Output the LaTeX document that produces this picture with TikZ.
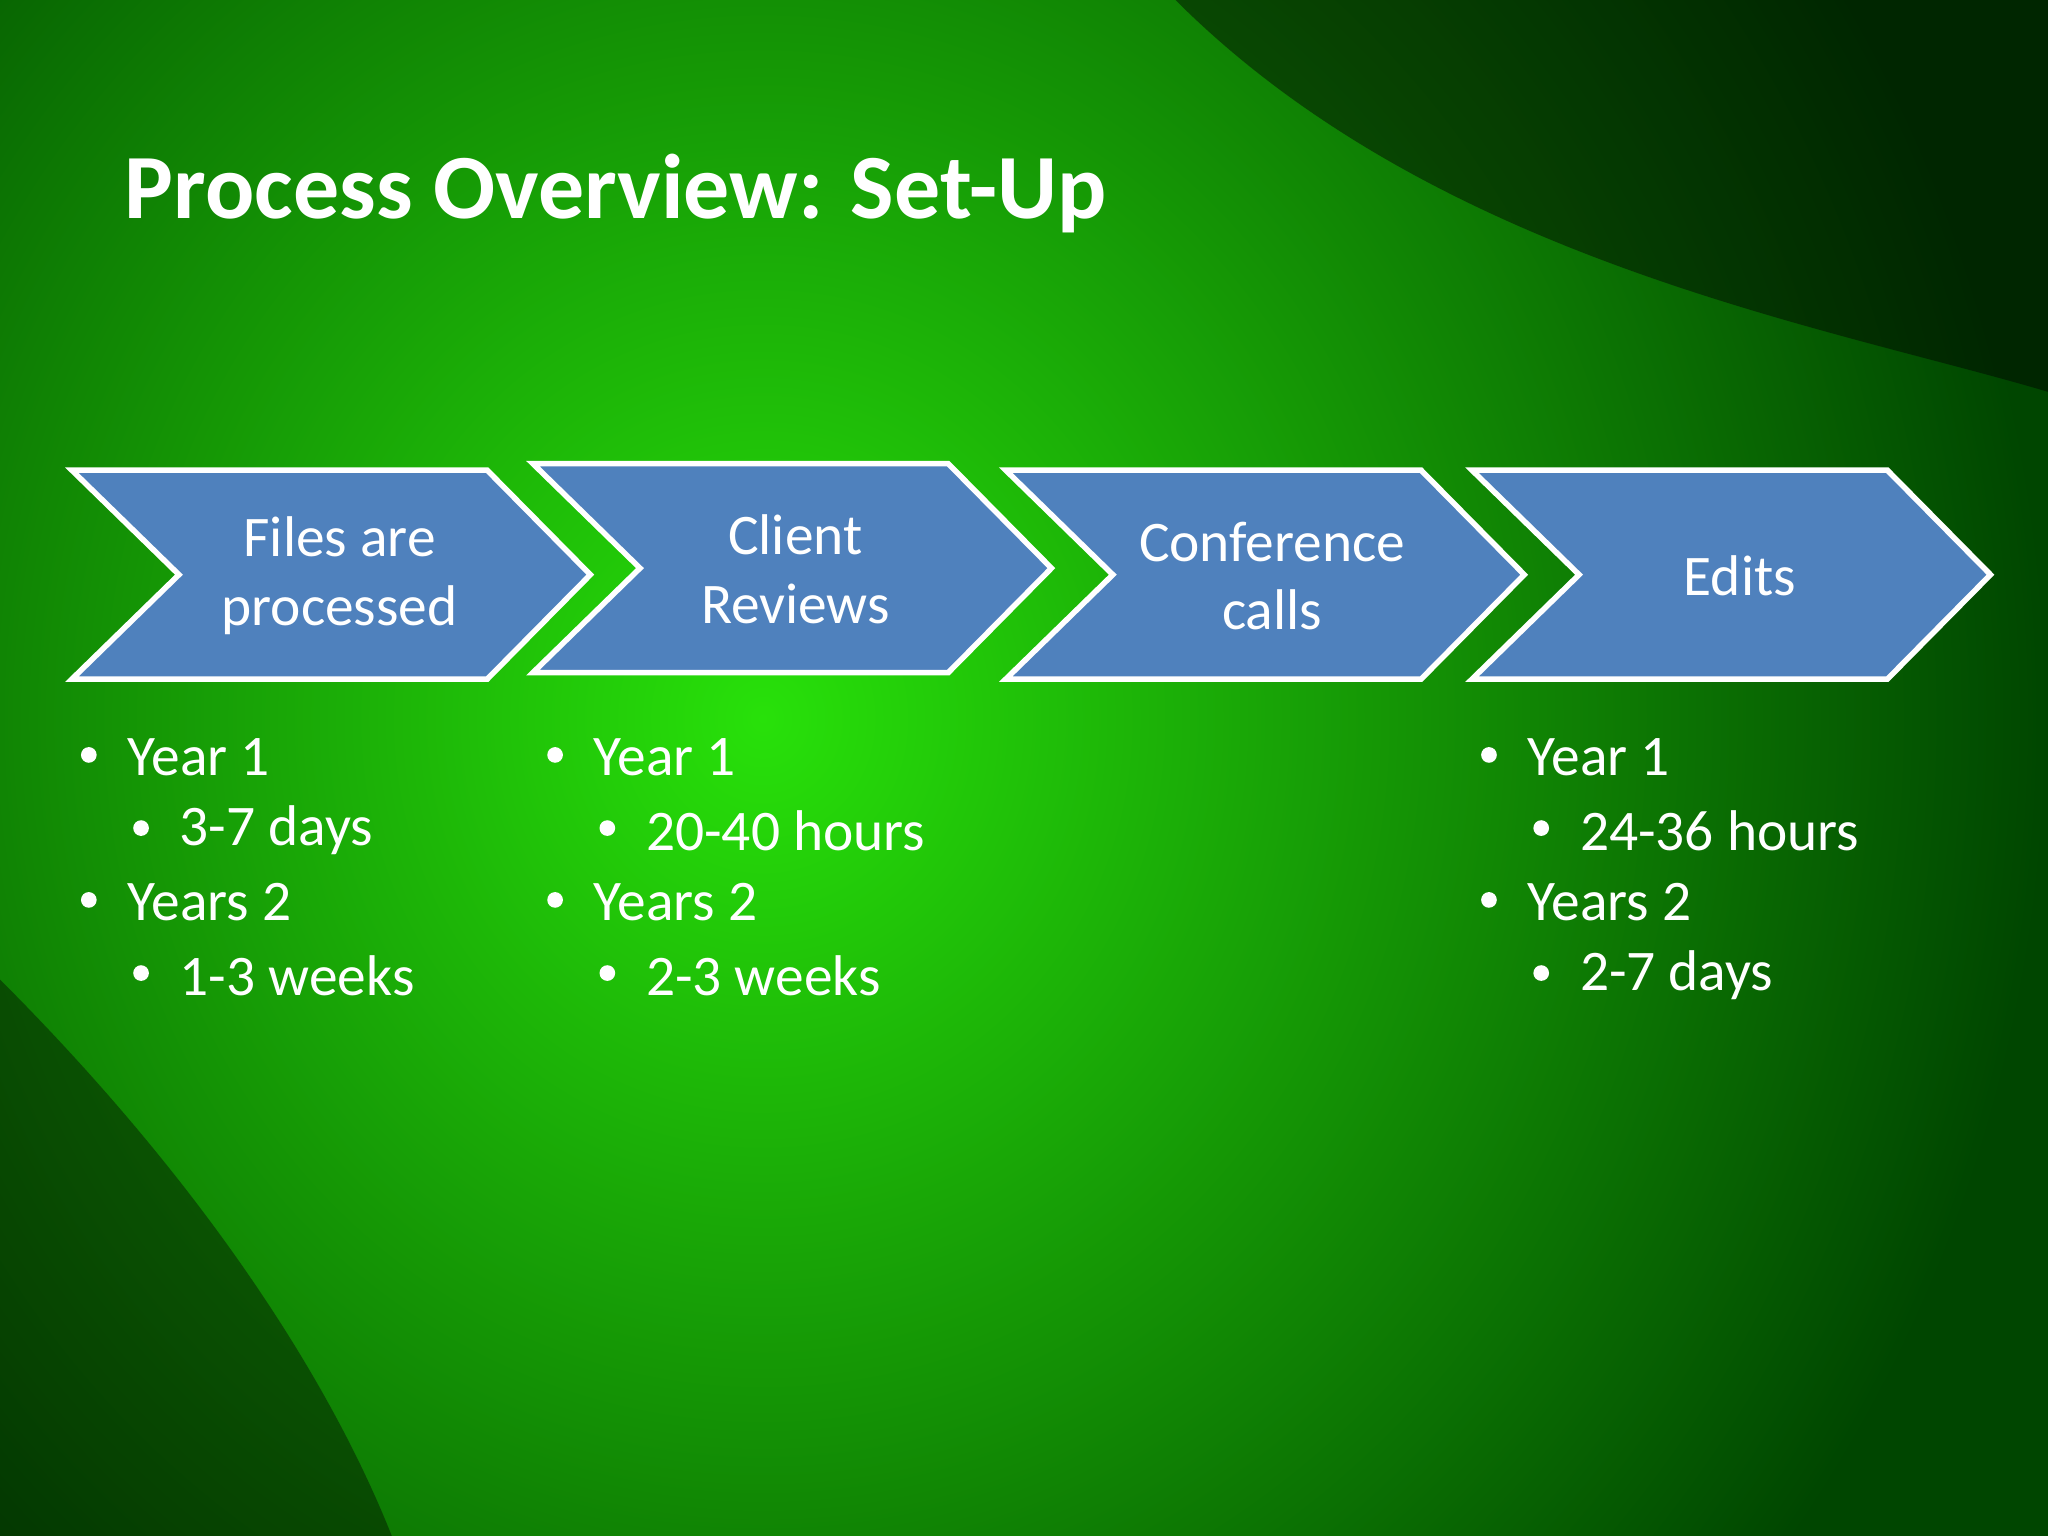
\documentclass[tikz,border=0pt]{standalone}
\usepackage{fontspec}
\setmainfont{Carlito}
\begin{document}
\begin{tikzpicture}[x=0.01cm,y=-0.01cm,
  chev/.style={fill={rgb,255:red,79;green,129;blue,189},draw=white,line width=1.2pt,line join=miter},
  ctext/.style={text=white,font=\fontsize{12.5}{15}\selectfont,align=center},
  btext/.style={text=white,font=\fontsize{12.5}{15}\selectfont,anchor=west,inner sep=0pt}]
\useasboundingbox (0,0) rectangle (1568,1176);
\fill[black] (0,0) rectangle (1568,1176);
\shade[inner color={rgb,255:red,40;green,225;blue,10},outer color={rgb,255:red,0;green,70;blue,0}] (-400,-500) rectangle (1568,1600);
\fill[black,opacity=0.45] (1568,0) -- (900,0) .. controls (1100,200) and (1400,250) .. (1568,300) -- cycle;
\fill[black,opacity=0.4] (0,750) .. controls (150,900) and (250,1050) .. (300,1176) -- (0,1176) -- cycle;
\node[text=white,font=\fontsize{20}{24}\bfseries\selectfont,anchor=west,inner sep=0pt] (title) at (95,148) {Process Overview: Set-Up};
\def\chevron#1#2#3{\filldraw[chev] (#1,#2) -- ++(318,0) -- ++(79,80) -- ++(-79,80) -- ++(-318,0) -- ++(82,-80) -- cycle;}
\chevron{55}{360}{}
\chevron{408}{355}{}
\chevron{770}{360}{}
\chevron{1127}{360}{}
\node[ctext] (c1) at (260,441) {Files are\\processed};
\node[ctext] (c2) at (609,436) {Client\\Reviews};
\node[ctext] (c3) at (974,441) {Conference\\calls};
\node[ctext] (c4) at (1332,441) {Edits};
\def\blist#1#2#3#4#5{
  \fill[white] (#1+13,578) circle (6); \node[btext] at (#1+42,580) {#2};
  \fill[white] (#1+53,634) circle (6); \node[btext] at (#1+82,636) {#3};
  \fill[white] (#1+13,689) circle (6); \node[btext] at (#1+42,691) {#4};
  \fill[white] (#1+53,745) circle (6); \node[btext] at (#1+82,747) {#5};}
\blist{55}{Year 1}{3-7 days}{Years 2}{1-3 weeks}
\blist{412}{Year 1}{20-40 hours}{Years 2}{2-3 weeks}
\blist{1127}{Year 1}{24-36 hours}{Years 2}{2-7 days}
\end{tikzpicture}
\end{document}
